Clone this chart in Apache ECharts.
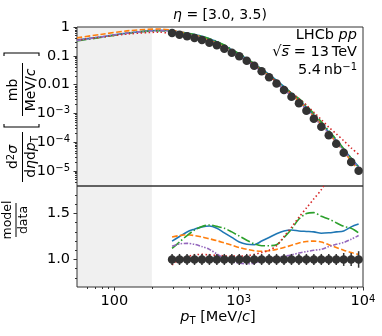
<!DOCTYPE html>
<html>
<head>
<meta charset="utf-8">
<script src="https://cdn.jsdelivr.net/npm/echarts@6/dist/echarts.min.js"></script>
<style>
html, body { margin: 0; padding: 0; background: #fff; }
#chart { width: 382px; height: 336px; }
</style>
</head>
<body>
<div id="chart"></div>
<script>
// data points (LHCb pp, eta in [3.0, 3.5))
var pT = [291, 334, 384, 441, 506, 581, 667, 766, 880, 1010, 1160, 1332, 1529, 1756, 2016, 2315, 2658, 3052, 3504, 4024, 4620, 5305, 6091, 6994, 8031, 9221];
var sigma = [0.619, 0.540, 0.475, 0.415, 0.354, 0.285, 0.232, 0.176, 0.128, 0.0961, 0.0676, 0.0453, 0.0292, 0.0181, 0.0109, 0.00649, 0.00380, 0.00224, 0.00124, 6.54e-4, 3.45e-4, 1.74e-4, 8.87e-5, 4.32e-5, 2.05e-5, 1.02e-5];
var dataErr = [0.06, 0.06, 0.06, 0.06, 0.06, 0.06, 0.06, 0.06, 0.06, 0.06, 0.06, 0.06, 0.06, 0.06, 0.06, 0.06, 0.06, 0.06, 0.06, 0.06, 0.06, 0.06, 0.06, 0.07, 0.07, 0.09];

// model curves below the first data point (top panel only)
var lowPT = [50, 77, 133, 232];
var blueLow = [0.35, 0.45, 0.63, 0.77];
var orangeLow = [0.42, 0.55, 0.75, 0.85];
var greenLow = [0.33, 0.43, 0.62, 0.74];
var redLow = [0.35, 0.44, 0.58, 0.66];
var purpleLow = [0.34, 0.45, 0.63, 0.75];

// model / data
var blueRatio = [1.20, 1.25, 1.30, 1.33, 1.355, 1.365, 1.34, 1.29, 1.24, 1.19, 1.165, 1.16, 1.20, 1.24, 1.28, 1.31, 1.32, 1.31, 1.305, 1.30, 1.285, 1.29, 1.30, 1.31, 1.355, 1.385];
var orangeRatio = [1.245, 1.26, 1.27, 1.26, 1.245, 1.225, 1.205, 1.18, 1.155, 1.13, 1.11, 1.095, 1.09, 1.095, 1.11, 1.13, 1.155, 1.18, 1.195, 1.20, 1.19, 1.16, 1.13, 1.10, 1.075, 1.055];
var greenRatio = [1.12, 1.19, 1.26, 1.32, 1.36, 1.375, 1.36, 1.34, 1.30, 1.255, 1.21, 1.17, 1.15, 1.15, 1.16, 1.24, 1.33, 1.44, 1.50, 1.51, 1.47, 1.44, 1.40, 1.36, 1.34, 1.29];
var redRatio = [0.94, 1.0, 1.03, 1.05, 1.055, 1.05, 1.045, 1.04, 1.036, 1.036, 1.04, 1.055, 1.075, 1.10, 1.15, 1.25, 1.35, 1.46, 1.56, 1.66, 1.76, 1.90, 2.2, 2.6, 3.1, 3.7];
var purpleRatio = [1.145, 1.17, 1.175, 1.165, 1.14, 1.11, 1.06, 1.01, 0.975, 0.96, 0.952, 0.96, 0.985, 1.01, 1.025, 1.035, 1.05, 1.07, 1.085, 1.10, 1.11, 1.14, 1.165, 1.185, 1.22, 1.26];

// ticks
var xMajor = [100, 1000, 10000];
var xMinor = [60, 70, 80, 90, 200, 300, 400, 500, 600, 700, 800, 900, 2000, 3000, 4000, 5000, 6000, 7000, 8000, 9000];
var yTopMajor = [1e-5, 1e-4, 1e-3, 0.01, 0.1, 1];
var yTopMinor = [4e-6, 5e-6, 6e-6, 7e-6, 8e-6, 9e-6, 2e-5, 3e-5, 4e-5, 5e-5, 6e-5, 7e-5, 8e-5, 9e-5,
  2e-4, 3e-4, 4e-4, 5e-4, 6e-4, 7e-4, 8e-4, 9e-4, 2e-3, 3e-3, 4e-3, 5e-3, 6e-3, 7e-3, 8e-3, 9e-3,
  0.02, 0.03, 0.04, 0.05, 0.06, 0.07, 0.08, 0.09, 0.2, 0.3, 0.4, 0.5, 0.6, 0.7, 0.8, 0.9];
var yBotMajor = [1.0, 1.5];
var yBotMinor = [0.8, 0.9, 1.1, 1.2, 1.3, 1.4, 1.6, 1.7];

var font = 'DejaVu Sans';
var fs = 14.5;
var chart = echarts.init(document.getElementById('chart'));

function powLabel(v) {
  var e = Math.round(Math.log10(v));
  if (e == 0) return '1';
  if (e == -1) return '0.1';
  if (e == -2) return '0.01';
  if (e == 2) return '100';
  return '{b|10}{s|' + (e < 0 ? '\u2212' + (-e) : e) + '}';
}
var labelRich = {
  b: { fontSize: fs, fontFamily: font, color: '#000' },
  s: { fontSize: 10, fontFamily: font, color: '#000', verticalAlign: 'top', lineHeight: 10 }
};

function topSeries(low, ratio) {
  var d = lowPT.map(function (x, i) { return [x, low[i]]; });
  return d.concat(pT.map(function (x, i) { return [x, sigma[i] * ratio[i]]; }));
}
function botSeries(ratio) {
  return pT.map(function (x, i) { return [x, ratio[i]]; });
}

var models = [
  { low: blueLow, ratio: blueRatio, color: '#1f77b4', type: 'solid' },
  { low: orangeLow, ratio: orangeRatio, color: '#ff7f0e', type: [5.5, 2.4] },
  { low: greenLow, ratio: greenRatio, color: '#2ca02c', type: [9.6, 2.4, 1.5, 2.4] },
  { low: redLow, ratio: redRatio, color: '#d62728', type: [1.5, 2.5] },
  { low: purpleLow, ratio: purpleRatio, color: '#9467bd', type: [4.5, 1.5, 1.5, 1.5, 1.5, 1.5] }
];

var series = [];
// shaded region below 200 MeV/c
[0, 1].forEach(function (g) {
  series.push({
    type: 'line', xAxisIndex: g, yAxisIndex: g == 0 ? 0 : 2, z: 0, silent: true,
    data: [[100, g == 0 ? 0.5 : 1]], showSymbol: false, lineStyle: { opacity: 0 },
    markArea: { silent: true, z: 0, itemStyle: { color: '#f0f0f0' }, data: [[{ xAxis: 50 }, { xAxis: 200 }]] }
  });
});
models.forEach(function (m) {
  series.push({
    type: 'line', xAxisIndex: 0, yAxisIndex: 0, data: topSeries(m.low, m.ratio),
    showSymbol: false, smooth: 0.3, z: 3, silent: true,
    lineStyle: { color: m.color, width: 1.6, type: m.type }
  });
  series.push({
    type: 'line', xAxisIndex: 1, yAxisIndex: 2, data: botSeries(m.ratio),
    showSymbol: false, smooth: 0.3, z: 3, silent: true,
    lineStyle: { color: m.color, width: 1.6, type: m.type }
  });
});
series.push({
  type: 'scatter', xAxisIndex: 0, yAxisIndex: 0, z: 5, silent: true,
  data: pT.map(function (x, i) { return [x, sigma[i]]; }),
  symbolSize: 8.5, itemStyle: { color: '#333', opacity: 1 }
});
series.push({
  type: 'custom', xAxisIndex: 1, yAxisIndex: 2, z: 5, silent: true,
  data: pT.map(function (x, i) { return [x, 1 - dataErr[i], 1 + dataErr[i]]; }),
  renderItem: function (params, api) {
    var lo = api.coord([api.value(0), api.value(1)]);
    var hi = api.coord([api.value(0), api.value(2)]);
    return { type: 'line', shape: { x1: lo[0], y1: lo[1], x2: hi[0], y2: hi[1] }, style: { stroke: '#333', lineWidth: 1.5 } };
  }
});
series.push({
  type: 'scatter', xAxisIndex: 1, yAxisIndex: 2, z: 6, silent: true,
  data: pT.map(function (x) { return [x, 1]; }),
  symbolSize: 8.5, itemStyle: { color: '#333', opacity: 1 }
});

var tickStyle = { color: '#000', width: 0.8 };
function xAxisCfg(grid, labels, major) {
  return {
    type: 'log', logBase: 10, gridIndex: grid, min: 50, max: 10000, position: 'bottom',
    axisLine: { show: false }, splitLine: { show: false },
    axisTick: { show: grid == 1, length: major ? 3.5 : 2, lineStyle: tickStyle, customValues: major ? xMajor : xMinor },
    axisLabel: {
      show: labels, customValues: xMajor, formatter: powLabel, rich: labelRich, margin: 7,
      fontSize: fs, fontFamily: font, color: '#000'
    }
  };
}

var option = {
  animation: false,
  backgroundColor: '#fff',
  grid: [
    { z: 1, left: 77, top: 27, width: 286, height: 159, show: true, borderColor: '#333', borderWidth: 1, backgroundColor: 'transparent' },
    { z: 1, left: 77, top: 186, width: 286, height: 101, show: true, borderColor: '#333', borderWidth: 1, backgroundColor: 'transparent' }
  ],
  xAxis: [xAxisCfg(0, false, true), xAxisCfg(1, true, true), xAxisCfg(1, false, false)],
  yAxis: [
    {
      type: 'log', logBase: 10, gridIndex: 0, min: 3e-6, max: 1, position: 'left',
      axisLine: { show: false }, splitLine: { show: false },
      axisTick: { length: 3.5, lineStyle: tickStyle, customValues: yTopMajor },
      axisLabel: { customValues: yTopMajor, formatter: powLabel, rich: labelRich, margin: 7, fontSize: fs, fontFamily: font, color: '#000' }
    },
    {
      type: 'log', logBase: 10, gridIndex: 0, min: 3e-6, max: 1, position: 'left',
      axisLine: { show: false }, splitLine: { show: false }, axisLabel: { show: false },
      axisTick: { length: 2, lineStyle: tickStyle, customValues: yTopMinor }
    },
    {
      type: 'value', gridIndex: 1, min: 0.7, max: 1.8, position: 'left',
      axisLine: { show: false }, splitLine: { show: false },
      axisTick: { length: 3.5, lineStyle: tickStyle, customValues: yBotMajor },
      axisLabel: {
        customValues: yBotMajor, margin: 7, fontSize: fs, fontFamily: font, color: '#000',
        formatter: function (v) { return v.toFixed(1); }
      }
    },
    {
      type: 'value', gridIndex: 1, min: 0.7, max: 1.8, position: 'left',
      axisLine: { show: false }, splitLine: { show: false }, axisLabel: { show: false },
      axisTick: { length: 2, lineStyle: tickStyle, customValues: yBotMinor }
    }
  ],
  series: series,
  graphic: [
    // title
    {
      type: 'text', x: 220, y: 15,
      style: {
        text: '{i|\u03b7}{r| = [3.0, 3.5)}', textAlign: 'center', textVerticalAlign: 'middle',
        rich: { i: { fontSize: 14, fontFamily: font, fontStyle: 'italic' }, r: { fontSize: 14, fontFamily: font } }
      }
    },
    // annotation
    {
      type: 'text', x: 357, y: 35,
      style: {
        text: '{r|LHCb }{i|pp}', textAlign: 'right', textVerticalAlign: 'middle',
        rich: { i: { fontSize: 14.5, fontFamily: font, fontStyle: 'italic' }, r: { fontSize: 14.5, fontFamily: font } }
      }
    },
    {
      type: 'text', x: 357, y: 52,
      style: {
        text: '{r|\u221a}{i|s\u0305}{r| = 13\u2009TeV}', textAlign: 'right', textVerticalAlign: 'middle',
        rich: { i: { fontSize: 14.5, fontFamily: font, fontStyle: 'italic' }, r: { fontSize: 14.5, fontFamily: font } }
      }
    },
    {
      type: 'text', x: 357, y: 70,
      style: {
        text: '{r|5.4\u2009nb}{s|\u22121}', textAlign: 'right', textVerticalAlign: 'middle',
        rich: { r: { fontSize: 14.5, fontFamily: font }, s: { fontSize: 10, fontFamily: font, verticalAlign: 'top', lineHeight: 10 } }
      }
    },
    // x axis name
    {
      type: 'text', x: 218, y: 317,
      style: {
        text: '{i|p}{t|T}{r| [MeV/}{i|c}{r|]}', textAlign: 'center', textVerticalAlign: 'middle',
        rich: {
          i: { fontSize: 14.5, fontFamily: font, fontStyle: 'italic', lineHeight: 19 },
          r: { fontSize: 14.5, fontFamily: font, lineHeight: 19 },
          t: { fontSize: 10, fontFamily: font, verticalAlign: 'bottom', lineHeight: 9 }
        }
      }
    },
    // y axis name, top panel
    {
      type: 'group', x: 0, y: 186, rotation: Math.PI / 2,
      children: [
        {
          type: 'text', x: 29, y: 13,
          style: {
            text: '{r|d}{s|2}{i|\u03c3}', textAlign: 'center', textVerticalAlign: 'middle',
            rich: {
              r: { fontSize: 14, fontFamily: font }, i: { fontSize: 14, fontFamily: font, fontStyle: 'italic' },
              s: { fontSize: 10, fontFamily: font, verticalAlign: 'top', lineHeight: 10 }
            }
          }
        },
        { type: 'line', shape: { x1: 4, y1: 22.5, x2: 54, y2: 22.5 }, style: { stroke: '#000', lineWidth: 1 } },
        {
          type: 'text', x: 29, y: 31,
          style: {
            text: '{r|d}{i|\u03b7}{r|d}{i|p}{t|T}', textAlign: 'center', textVerticalAlign: 'middle',
            rich: {
              r: { fontSize: 14, fontFamily: font, lineHeight: 18 }, i: { fontSize: 14, fontFamily: font, fontStyle: 'italic', lineHeight: 18 },
              t: { fontSize: 10, fontFamily: font, verticalAlign: 'bottom', lineHeight: 9 }
            }
          }
        },
        { type: 'polyline', shape: { points: [[62, 4], [59, 4], [59, 39], [62, 39]] }, style: { stroke: '#000', lineWidth: 1.1, fill: null } },
        {
          type: 'text', x: 96, y: 13,
          style: { text: 'mb', fontSize: 14, fontFamily: font, textAlign: 'center', textVerticalAlign: 'middle' }
        },
        { type: 'line', shape: { x1: 70, y1: 22.5, x2: 123, y2: 22.5 }, style: { stroke: '#000', lineWidth: 1 } },
        {
          type: 'text', x: 96, y: 31,
          style: {
            text: '{r|MeV/}{i|c}', textAlign: 'center', textVerticalAlign: 'middle',
            rich: { r: { fontSize: 14, fontFamily: font }, i: { fontSize: 14, fontFamily: font, fontStyle: 'italic' } }
          }
        },
        { type: 'polyline', shape: { points: [[130, 4], [133, 4], [133, 39], [130, 39]] }, style: { stroke: '#000', lineWidth: 1.1, fill: null } }
      ]
    },
    // y axis name, bottom panel
    {
      type: 'group', x: 0, y: 220, rotation: Math.PI / 2,
      children: [
        { type: 'text', x: 0, y: 8, style: { text: 'model', fontSize: 12.5, fontFamily: font, textAlign: 'center', textVerticalAlign: 'middle' } },
        { type: 'line', shape: { x1: -17, y1: 16, x2: 17, y2: 16 }, style: { stroke: '#000', lineWidth: 1 } },
        { type: 'text', x: 0, y: 24, style: { text: 'data', fontSize: 12.5, fontFamily: font, textAlign: 'center', textVerticalAlign: 'middle' } }
      ]
    }
  ]
};
chart.setOption(option);
</script>
</body>
</html>
